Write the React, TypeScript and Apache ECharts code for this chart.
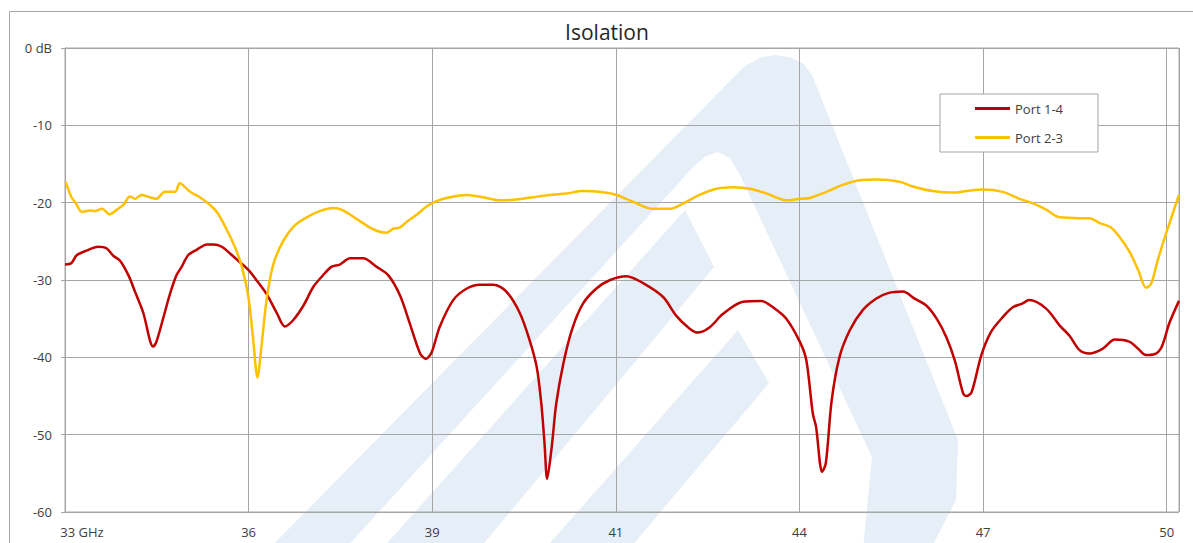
import React, { useEffect, useRef } from 'react';
import * as echarts from 'echarts';

// ---- data ----
const xTickLabels = ['33 GHz', '36', '39', '41', '44', '47', '50'];
const X_START = 33; // GHz at first grid line
const X_STEP = 17 / 6; // GHz between grid lines
const X_END = 50.19; // GHz at right plot border

const Y_MIN = -60;
const Y_MAX = 0;
const Y_STEP = 10;

const seriesNames = ['Port 1-4', 'Port 2-3'];

const freq14 = [
  33.0, 33.1, 33.18, 33.33, 33.51, 33.64, 33.75, 33.85, 33.98, 34.08, 34.21, 34.31, 34.36, 34.41, 34.52, 34.62,
  34.72, 34.8, 34.9, 35.03, 35.19, 35.29, 35.42, 35.55, 35.7, 35.83, 35.98, 36.11, 36.27, 36.39, 36.52, 36.68,
  36.83, 36.98, 37.11, 37.24, 37.4, 37.6, 37.81, 37.99, 38.17, 38.32, 38.48, 38.57, 38.66, 38.78, 38.99, 39.2,
  39.4, 39.61, 39.81, 40.02, 40.17, 40.28, 40.35, 40.4, 40.44, 40.51, 40.58, 40.69, 40.82, 40.99, 41.2, 41.41,
  41.66, 41.92, 42.23, 42.43, 42.64, 42.76, 42.95, 43.15, 43.46, 43.75, 43.92, 44.13, 44.34, 44.44, 44.54, 44.59,
  44.65, 44.68, 44.74, 44.83, 44.95, 45.11, 45.31, 45.52, 45.7, 45.93, 46.11, 46.29, 46.45, 46.6, 46.73, 46.86,
  46.91, 46.99, 47.14, 47.29, 47.47, 47.63, 47.76, 47.88, 48.14, 48.35, 48.5, 48.66, 48.81, 49.01, 49.2, 49.43,
  49.56, 49.68, 49.81, 49.92, 50.04, 50.19,
];
const db14 = [
  -28.0, -27.8, -26.8, -26.2, -25.7, -25.9, -26.9, -27.5, -29.4, -31.5, -34.3, -37.8, -38.6, -38.0, -34.8, -31.8,
  -29.4, -28.3, -26.8, -26.1, -25.4, -25.4, -25.7, -26.6, -27.7, -28.7, -30.3, -31.8, -34.3, -36.0, -35.2, -33.3,
  -30.9, -29.4, -28.3, -28.0, -27.2, -27.2, -28.3, -29.4, -32.0, -35.6, -39.5, -40.2, -39.3, -36.1, -32.6, -31.1,
  -30.6, -30.6, -31.5, -34.3, -37.8, -41.3, -46.0, -51.2, -55.7, -51.6, -46.0, -40.8, -36.5, -33.1, -31.1, -30.0,
  -29.5, -30.4, -32.2, -34.6, -36.3, -36.8, -36.1, -34.4, -32.8, -32.7, -33.5, -35.0, -38.0, -40.4, -47.3, -49.0,
  -53.7, -54.8, -53.7, -45.6, -40.0, -36.5, -33.9, -32.4, -31.7, -31.5, -32.4, -33.3, -35.0, -37.4, -40.4, -44.7,
  -45.0, -44.5, -39.7, -36.7, -34.8, -33.5, -33.1, -32.6, -33.7, -35.9, -37.2, -39.1, -39.5, -38.9, -37.7, -38.0,
  -38.9, -39.7, -39.6, -38.7, -35.6, -32.7,
];

const freq23 = [
  33.01, 33.1, 33.17, 33.26, 33.39, 33.46, 33.57, 33.69, 33.8, 33.9, 34.0, 34.08, 34.18, 34.31, 34.41, 34.54,
  34.7, 34.77, 34.93, 35.08, 35.24, 35.36, 35.49, 35.62, 35.73, 35.83, 35.9, 35.97, 36.03, 36.11, 36.21, 36.37,
  36.55, 36.73, 36.93, 37.14, 37.29, 37.5, 37.7, 37.83, 37.96, 38.06, 38.17, 38.27, 38.42, 38.58, 38.73, 38.94,
  39.2, 39.45, 39.71, 39.97, 40.22, 40.48, 40.74, 40.99, 41.25, 41.51, 41.77, 42.07, 42.33, 42.54, 42.79, 43.05,
  43.31, 43.57, 43.82, 44.13, 44.34, 44.49, 44.75, 45.0, 45.26, 45.54, 45.88, 46.08, 46.39, 46.7, 46.91, 47.16,
  47.47, 47.73, 47.94, 48.14, 48.35, 48.66, 48.81, 48.96, 49.14, 49.27, 49.43, 49.56, 49.68, 49.76, 49.86, 49.99,
  50.19,
];
const db23 = [
  -17.3, -19.3, -20.1, -21.2, -21.0, -21.1, -20.8, -21.5, -20.9, -20.3, -19.2, -19.5, -19.0, -19.3, -19.5, -18.6,
  -18.6, -17.5, -18.6, -19.3, -20.3, -21.4, -23.4, -25.7, -28.3, -32.2, -37.4, -42.6, -38.7, -32.6, -28.1, -24.9,
  -22.9, -21.9, -21.1, -20.7, -21.0, -22.1, -23.2, -23.7, -23.9, -23.4, -23.2, -22.5, -21.6, -20.5, -19.8, -19.3,
  -19.0, -19.3, -19.7, -19.6, -19.3, -19.0, -18.8, -18.5, -18.6, -19.0, -19.9, -20.8, -20.8, -20.1, -19.0, -18.2,
  -18.0, -18.2, -18.8, -19.7, -19.5, -19.4, -18.6, -17.7, -17.1, -17.0, -17.3, -17.9, -18.5, -18.7, -18.5, -18.3,
  -18.6, -19.5, -20.1, -20.9, -21.9, -22.0, -22.0, -22.6, -23.2, -24.4, -26.4, -28.7, -31.0, -30.5, -27.5, -24.0,
  -19.0,
];

const FONT = '"Open Sans", "Noto Sans", sans-serif';
const GRID_COLOR = '#a6a6a6';
const TEXT_COLOR = '#404040';
const RED = '#c00000';
const YELLOW = '#ffc000';
const WATERMARK = '#e6eef7';

function toPairs(freq: number[], db: number[]) {
  return freq.map((f, i) => [(f - X_START) / X_STEP, db[i]]);
}

export default function App() {
  const ref = useRef<HTMLDivElement>(null);

  useEffect(() => {
    if (!ref.current) return;
    const chart = echarts.init(ref.current, undefined, { renderer: 'svg' });

    const wm = (points: number[][]) => ({
      type: 'polygon',
      z: -5,
      silent: true,
      shape: { points },
      style: { fill: WATERMARK, stroke: null },
    });

    chart.setOption({
      animation: false,
      backgroundColor: '#ffffff',
      textStyle: { fontFamily: FONT },
      grid: {
        left: 65,
        top: 48,
        width: 1114,
        height: 464,
        show: true,
        borderColor: GRID_COLOR,
        borderWidth: 1,
        backgroundColor: 'transparent',
        containLabel: false,
      },
      legend: {
        show: true,
        orient: 'vertical',
        left: 940,
        top: 94,
        icon: 'rect',
        itemWidth: 35,
        itemHeight: 3,
        itemGap: 16,
        padding: [8, 35, 8, 35],
        backgroundColor: '#ffffff',
        borderColor: GRID_COLOR,
        borderWidth: 1,
        borderRadius: 0,
        textStyle: { fontSize: 13, color: TEXT_COLOR, fontFamily: FONT },
        data: seriesNames,
      },
      xAxis: {
        type: 'value',
        min: 0,
        max: (X_END - X_START) / X_STEP,
        interval: 1,
        axisLine: { show: true, lineStyle: { color: GRID_COLOR, width: 1 } },
        axisTick: { show: false },
        splitLine: { show: true, lineStyle: { color: GRID_COLOR, width: 1 } },
        axisLabel: {
          show: true,
          showMinLabel: true,
          margin: 13,
          fontSize: 13,
          color: TEXT_COLOR,
          fontFamily: FONT,
          formatter: (v: number) => {
            const i = Math.round(v);
            if (Math.abs(v - i) > 1e-6 || i < 0 || i >= xTickLabels.length) return '';
            if (i === 0) return '{f|' + xTickLabels[0] + '}';
            return xTickLabels[i];
          },
          rich: {
            f: { padding: [0, 0, 0, 34], fontSize: 13, color: TEXT_COLOR, fontFamily: FONT },
          },
        },
      },
      yAxis: {
        type: 'value',
        min: Y_MIN,
        max: Y_MAX,
        interval: Y_STEP,
        axisLine: { show: true, lineStyle: { color: GRID_COLOR, width: 1 } },
        axisTick: { show: true, length: 4, lineStyle: { color: GRID_COLOR } },
        splitLine: { show: true, lineStyle: { color: GRID_COLOR, width: 1 } },
        axisLabel: {
          margin: 13,
          fontSize: 13,
          color: TEXT_COLOR,
          fontFamily: FONT,
          formatter: (v: number) => (v === 0 ? '0 dB' : String(v)),
        },
      },
      series: [
        {
          name: seriesNames[0],
          type: 'line',
          data: toPairs(freq14, db14),
          symbol: 'none',
          smooth: 0.3,
          lineStyle: { color: RED, width: 2.5 },
          itemStyle: { color: RED },
          z: 3,
        },
        {
          name: seriesNames[1],
          type: 'line',
          data: toPairs(freq23, db23),
          symbol: 'none',
          smooth: 0.3,
          lineStyle: { color: YELLOW, width: 2.5 },
          itemStyle: { color: YELLOW },
          z: 4,
        },
      ],
      graphic: [
        wm([
          [258, 560], [728, 83], [745, 66], [762, 57], [776, 55], [792, 58], [804, 64], [812, 75],
          [958, 440], [956, 500], [925, 560], [862, 560], [872, 457], [740, 175], [730, 158],
          [718, 152], [706, 156], [695, 165], [335, 560],
        ]),
        wm([[685, 210], [714, 267], [470, 560], [372, 560]]),
        wm([[738, 330], [769, 383], [620, 560], [535, 560]]),
        {
          type: 'text',
          x: 607,
          y: 32,
          silent: true,
          style: {
            text: 'Isolation',
            fill: '#262626',
            font: '21px ' + FONT,
            fontSize: 21,
            fontFamily: FONT,
            align: 'center',
            verticalAlign: 'middle',
            textAlign: 'center',
            textVerticalAlign: 'middle',
          },
        },
        {
          type: 'rect',
          silent: true,
          shape: { x: 9.5, y: 11.5, width: 1300, height: 700 },
          style: { fill: 'rgba(0,0,0,0)', stroke: GRID_COLOR, lineWidth: 1 },
        },
      ],
    });

    return () => chart.dispose();
  }, []);

  return (
    <div
      ref={ref}
      style={{ position: 'fixed', left: 0, top: 0, width: 1193, height: 543, background: '#fff' }}
    />
  );
}
